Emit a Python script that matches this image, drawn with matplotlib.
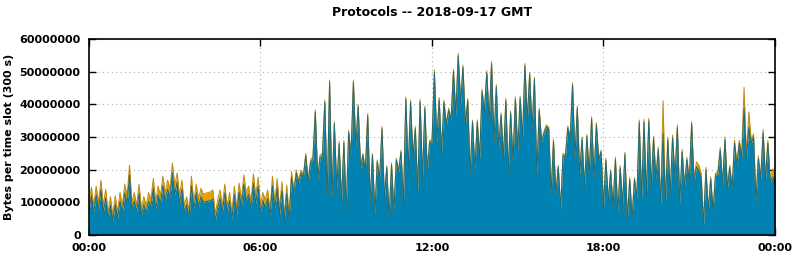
import matplotlib
matplotlib.use("Agg")
import matplotlib.pyplot as plt
import numpy as np

# 5-minute slots over the day, values in millions of bytes
total_mb = [
    10, 14.6, 9, 15, 10, 16.8, 9, 14, 7, 11.7, 6, 12,
    7, 13, 9, 15.6, 12, 21.4, 10, 13, 9, 15.6, 8, 11.7,
    9, 13, 11, 17.3, 10, 15, 12, 18, 13, 16.8, 14, 22,
    15, 19, 12, 16.8, 9, 11.7, 7, 18, 10, 15.6, 11, 14.3,
    12.5, 12.8, 13, 13.2, 13.8, 6.5, 10.7, 13.8, 9, 15.6, 9, 13,
    6.5, 15, 8, 15.9, 11, 18.4, 13, 15, 10, 18.7, 12, 17.7,
    9, 13, 10.7, 13.8, 7.7, 18, 10, 17.3, 8, 16.3, 6, 15.3,
    6, 19.4, 13.8, 19.9, 16.8, 19.9, 18.5, 25, 16.8, 23, 24, 38.3,
    17.8, 24.5, 25, 41.3, 11.7, 47.4, 12, 34.7, 14.8, 28.6, 10.7, 28.9,
    7.7, 32.1, 25, 47.4, 27.5, 40, 21, 25, 20, 37.2, 10.7, 25,
    6.7, 23, 17.8, 33.2, 11.7, 21.2, 5.6, 22, 7.7, 23.5, 20, 26,
    9.7, 42.3, 20, 41.3, 24, 33.2, 13.8, 41.5, 17.8, 39.5, 20, 29,
    29.1, 50.5, 29.1, 42.1, 26, 41.3, 34.2, 38.8, 35.7, 50.7, 37.2, 55.6,
    40.8, 52, 34.2, 41.8, 18.9, 35.2, 20.4, 35.2, 24, 44.6, 38.3, 50.3,
    35.2, 53.1, 29.1, 46, 27, 37.4, 24, 41.8, 19.4, 37.9, 23, 42.3,
    26, 42.5, 30, 52.5, 35.7, 49.8, 32.6, 48.3, 18.9, 38.8, 29.1, 31.7,
    33.7, 33, 12.8, 29.3, 12.8, 21.4, 8.2, 25, 24.5, 33.4, 30, 46.6,
    24, 39.5, 18.9, 30, 14.8, 30.8, 18.9, 36.2, 17.9, 34.4, 23.5, 26,
    9, 23.5, 10.7, 20, 8.7, 23.8, 7.1, 21.2, 9.7, 25.3, 5.1, 17.6,
    5.6, 17.6, 11.7, 35.2, 11.7, 35.4, 12.2, 35.7, 14.8, 30.3, 17.8, 27,
    10.2, 41.1, 10.2, 29.9, 12.7, 30.6, 17.8, 33.7, 10.2, 26.2, 15.3, 23.8,
    16.8, 34.7, 16.8, 22.4, 21.4, 18.9, 3.6, 20.7, 7.7, 17.8, 7.7, 18.9,
    19.4, 26.8, 15.9, 30, 14.8, 21.4, 14.8, 29, 22, 29, 24.5, 45.2,
    24, 37.7, 29, 30.9, 10.7, 24.2, 17.8, 32.3, 17.8, 29, 16.8, 20.3,
    18,
]

orange_mb = [
    2.5, 2.6, 2.0, 2.8, 2.2, 2.9, 2.0, 2.7, 1.8, 2.5, 1.6, 2.6,
    1.8, 2.7, 2.0, 2.8, 2.4, 3.0, 2.0, 2.6, 1.9, 2.8, 1.8, 2.5,
    2.0, 2.6, 2.2, 2.9, 2.0, 2.7, 2.3, 2.9, 2.4, 2.8, 2.5, 3.0,
    2.6, 2.9, 2.3, 2.8, 1.9, 2.4, 1.7, 2.9, 2.0, 2.7, 2.2, 2.6,
    2.4, 2.6, 2.6, 2.7, 2.8, 2.2, 2.3, 2.6, 2.0, 2.7, 2.0, 2.5,
    1.6, 2.7, 1.8, 2.8, 2.2, 2.9, 2.4, 2.6, 2.0, 2.9, 2.3, 2.8,
    2.0, 2.5, 2.3, 2.6, 1.8, 2.9, 2.1, 2.8, 1.8, 2.7, 1.5, 2.6,
    1.5, 1.8, 1.2, 1.0, 0.9, 0.9, 0.8, 0.8, 0.7, 0.8, 0.8, 0.7,
    0.7, 0.7, 0.7, 0.7, 0.6, 0.7, 0.6, 0.7, 0.6, 0.7, 0.6, 0.7,
    0.5, 0.7, 0.6, 0.7, 0.6, 0.7, 0.6, 0.6, 0.6, 0.7, 0.5, 0.6,
    0.5, 0.6, 0.6, 0.7, 0.5, 0.6, 0.5, 0.6, 0.5, 0.6, 0.6, 0.7,
    0.5, 0.7, 0.6, 0.7, 0.6, 0.7, 0.5, 0.7, 0.6, 0.7, 0.6, 0.6,
    0.6, 0.7, 0.6, 0.7, 0.6, 0.7, 0.6, 0.7, 0.6, 0.7, 0.6, 0.7,
    0.6, 0.7, 0.6, 0.7, 0.5, 0.6, 0.5, 0.6, 0.6, 0.7, 0.6, 0.7,
    0.6, 0.7, 0.6, 0.7, 0.6, 0.7, 0.6, 0.7, 0.5, 0.6, 0.6, 0.7,
    0.6, 0.7, 0.6, 0.7, 0.6, 0.7, 0.6, 0.7, 0.5, 0.6, 0.6, 0.6,
    0.6, 0.6, 0.5, 0.6, 0.5, 0.6, 0.5, 0.7, 0.6, 0.7, 0.6, 0.7,
    0.6, 0.7, 0.5, 0.6, 0.5, 0.6, 0.5, 0.7, 0.5, 0.7, 0.6, 0.6,
    0.5, 0.7, 0.5, 0.6, 0.5, 0.7, 0.5, 0.7, 0.5, 0.7, 0.5, 0.7,
    0.5, 0.7, 0.5, 0.8, 0.5, 0.8, 0.5, 0.8, 0.6, 0.8, 0.6, 0.8,
    0.5, 10.0, 0.5, 0.8, 0.5, 0.8, 0.6, 0.8, 0.5, 0.8, 0.6, 0.8,
    0.6, 0.8, 0.6, 1.5, 1.6, 1.5, 0.5, 0.8, 0.5, 0.8, 0.5, 0.8,
    0.8, 0.9, 0.6, 0.9, 0.6, 0.8, 0.6, 0.9, 0.8, 0.9, 0.8, 6.4,
    0.8, 4.7, 0.9, 0.9, 0.5, 0.9, 0.7, 1.0, 0.7, 0.9, 0.7, 2.5,
    1.5,
]

hour_labels = ["00:00", "06:00", "12:00", "18:00", "00:00"]

total = np.array(total_mb) * 1e6
orange = np.array(orange_mb) * 1e6
blue = total - orange
t = np.arange(len(total)) * 300  # seconds since midnight

plt.rcParams['font.family'] = 'DejaVu Sans'
plt.rcParams['font.weight'] = 'bold'

fig = plt.figure(figsize=(7.94, 2.60), dpi=100)
ax = fig.add_axes([89 / 794, 25 / 260, 686 / 794, 196 / 260])

ax.fill_between(t, 0, blue, color='#0083b3', lw=0, zorder=2)
ax.fill_between(t, blue, total, color='#e69f00', lw=0, zorder=2)
ax.plot(t, total, color='#c08a10', lw=0.7, zorder=3)
ax.plot(t, blue, color='#1e6b7c', lw=0.7, zorder=3)

ax.set_xlim(0, 86400)
ax.set_ylim(0, 60000000)
ax.set_xticks(np.arange(0, 86401, 21600))
ax.set_xticklabels(hour_labels)
ax.set_yticks(np.arange(0, 60000001, 10000000))
ax.set_yticklabels([str(v) for v in range(0, 60000001, 10000000)])
ax.tick_params(direction='in', length=5, width=1, top=True, right=True,
               labelsize=8, pad=6)
for lab in ax.get_xticklabels() + ax.get_yticklabels():
    lab.set_fontweight('bold')
ax.grid(True, color='#b0b0b0', linestyle=(0, (1, 3)), lw=0.8, zorder=4)
for s in ax.spines.values():
    s.set_linewidth(1.2)
    s.set_zorder(5)

ax.set_ylabel('Bytes per time slot (300 s)', fontsize=8, fontweight='bold', labelpad=4)
fig.text(432 / 794, 1 - 12 / 260, 'Protocols -- 2018-09-17 GMT', ha='center', va='center',
         fontsize=9, fontweight='bold')

fig.savefig('out.png', dpi=100)
